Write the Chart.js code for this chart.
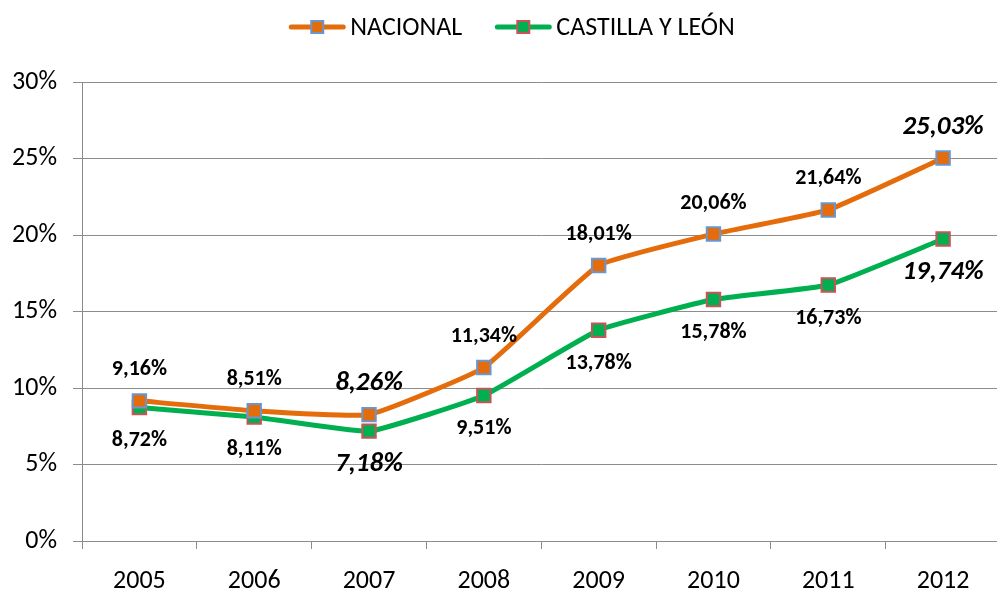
<!DOCTYPE html>
<html>
<head>
<meta charset="utf-8">
<script src="https://cdn.jsdelivr.net/npm/chart.js@4"></script>
<style>
	html, body { margin: 0; padding: 0; background: #fff; overflow: hidden; }
	#wrap { width: 1012px; height: 592px; }
</style>
</head>
<body>
<div id="wrap"><canvas id="paroChart"></canvas></div>
<script>
	'use strict';

	// Datos
	const years = ['2005', '2006', '2007', '2008', '2009', '2010', '2011', '2012'];
	const nacional = [9.16, 8.51, 8.26, 11.34, 18.01, 20.06, 21.64, 25.03];
	const castillaLeon = [8.72, 8.11, 7.18, 9.51, 13.78, 15.78, 16.73, 19.74];
	const seriesNames = ['NACIONAL', 'CASTILLA Y LEÓN'];
	const highlighted = [2, 7]; // etiquetas en cursiva

	const FONT = 'Carlito, Lato, sans-serif';
	const GRID = '#8c8c8c';

	const lineColors = ['#e46c0a', '#00b050'];
	const markerBorders = ['#6a96d0', '#c8545a'];

	function fmt(v) {
		return v.toFixed(2).replace('.', ',') + '%';
	}

	// Etiquetas de valores: nacional encima, Castilla y León debajo
	const valueLabels = {
		id: 'valueLabels',
		afterDatasetsDraw(chart) {
			const ctx = chart.ctx;
			ctx.save();
			ctx.fillStyle = '#000';
			ctx.textAlign = 'center';
			ctx.textBaseline = 'middle';
			chart.data.datasets.forEach(function(ds, di) {
				const meta = chart.getDatasetMeta(di);
				meta.data.forEach(function(pt, i) {
					const big = highlighted.indexOf(i) !== -1;
					ctx.font = (big ? 'italic bold 27px ' : 'bold 22px ') + FONT;
					const dy = di === 0 ? -31 : 33;
					ctx.fillText(fmt(ds.data[i]), pt.x, pt.y + dy);
				});
			});
			ctx.restore();
		}
	};

	// Leyenda con línea y marcador cuadrado
	const lineLegend = {
		id: 'lineLegend',
		afterDraw(chart) {
			const ctx = chart.ctx;
			ctx.save();
			ctx.font = '26px ' + FONT;
			ctx.textBaseline = 'middle';
			const lineW = 56, gapText = 5, gapItems = 33;
			const widths = seriesNames.map(n => ctx.measureText(n).width);
			const total = widths.reduce((a, b) => a + b, 0) + 2 * (lineW + gapText) + gapItems;
			let x = 512 - total / 2;
			const y = 27;
			seriesNames.forEach(function(name, i) {
				ctx.strokeStyle = lineColors[i];
				ctx.lineWidth = 5;
				ctx.lineCap = 'round';
				ctx.beginPath();
				ctx.moveTo(x + 2, y);
				ctx.lineTo(x + lineW - 2, y);
				ctx.stroke();
				ctx.fillStyle = lineColors[i];
				ctx.fillRect(x + lineW / 2 - 6, y - 6, 12, 12);
				ctx.strokeStyle = markerBorders[i];
				ctx.lineWidth = 2;
				ctx.strokeRect(x + lineW / 2 - 6, y - 6, 12, 12);
				ctx.fillStyle = '#000';
				ctx.fillText(name, x + lineW + gapText, y + 1);
				x += lineW + gapText + widths[i] + gapItems;
			});
			ctx.restore();
		}
	};

	const ctx = document.getElementById('paroChart').getContext('2d');
	new Chart(ctx, {
		type: 'line',
		data: {
			labels: years,
			datasets: [nacional, castillaLeon].map(function(values, i) {
				return {
					label: seriesNames[i],
					data: values,
					borderColor: lineColors[i],
					backgroundColor: lineColors[i],
					borderWidth: 5,
					tension: 0.12,
					pointStyle: 'rect',
					pointRadius: 9.5,
					pointHoverRadius: 9.5,
					pointBackgroundColor: lineColors[i],
					pointBorderColor: markerBorders[i],
					pointBorderWidth: 2
				};
			})
		},
		options: {
			responsive: true,
			maintainAspectRatio: false,
			animation: false,
			layout: {
				padding: { left: 0, right: 3, top: 82, bottom: 0 }
			},
			plugins: {
				legend: { display: false },
				tooltip: { enabled: false }
			},
			scales: {
				x: {
					offset: true,
					afterFit: function(scale) { scale.height = 51; },
					grid: {
						offset: true,
						drawOnChartArea: false,
						drawTicks: true,
						tickLength: 8,
						color: GRID
					},
					border: { color: GRID, width: 1 },
					ticks: {
						color: '#000',
						padding: 17,
						font: { family: FONT, size: 26 }
					}
				},
				y: {
					min: 0,
					max: 30,
					afterFit: function(scale) { scale.width = 82; },
					grid: {
						color: GRID,
						tickLength: 9
					},
					border: { color: GRID, width: 1 },
					ticks: {
						stepSize: 5,
						color: '#000',
						padding: 16,
						font: { family: FONT, size: 26 },
						callback: function(v) { return v + '%'; }
					}
				}
			}
		},
		plugins: [valueLabels, lineLegend]
	});
</script>
</body>
</html>
